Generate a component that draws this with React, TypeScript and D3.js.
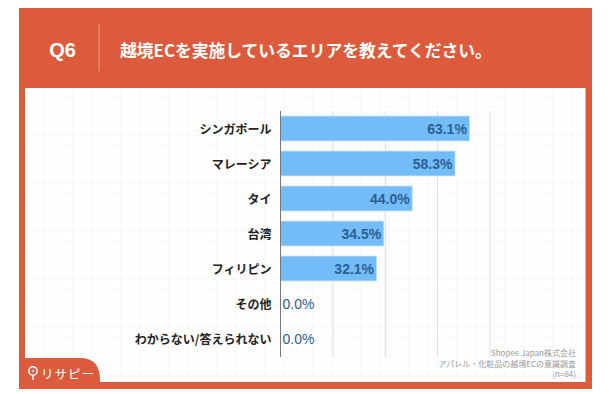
import React from "react";
import * as d3 from "d3";

// data
const categories = [
	"シンガポール",
	"マレーシア",
	"タイ",
	"台湾",
	"フィリピン",
	"その他",
	"わからない/答えられない",
];
const values = [63.1, 58.3, 44.0, 34.5, 32.1, 0.0, 0.0];
const gridTicks = [17.5, 35, 52.5, 70];
const footerLines = ["Shopee Japan株式会社", "アパレル・化粧品の越境ECの意識調査", "(n=84)"];

const ORANGE = "#dc5b3d";
const BAR = "#72bdf8";
const VALUE_COLOR = "#2d5f93";
const FONT = "'Noto Sans CJK JP', 'Noto Sans', sans-serif";
const NUM_FONT = "'Liberation Sans', Arial, sans-serif";

export default function App() {
	const width = 609;
	const height = 394;

	const x = d3.scaleLinear().domain([0, 70]).range([280.5, 490]);
	const y = d3
		.scaleBand<string>()
		.domain(categories)
		.range([111, 356])
		.paddingInner(0.29)
		.paddingOuter(0.145);

	return (
		<div style={{ position: "absolute", left: 0, top: 0 }}>
			<svg width={width} height={height} style={{ display: "block", fontFamily: FONT }}>
				<defs>
					<pattern id="paper" width={9.6} height={9.6} patternUnits="userSpaceOnUse" x={25} y={88}>
						<path d="M9.6,0 V9.6 H0" fill="none" stroke="#efefef" strokeWidth={0.7} />
					</pattern>
				</defs>
				<rect width={width} height={height} fill="#fff" />

				{/* frame */}
				<rect x={19} y={8} width={573} height={381} fill={ORANGE} />
				<rect x={25} y={88} width={560.5} height={294} fill="#fff" />
				<rect x={25} y={88} width={560.5} height={294} fill="url(#paper)" />

				{/* header */}
				<text x={62.5} y={50} fill="#fff" fontSize={20} fontWeight={700} textAnchor="middle" dominantBaseline="central" fontFamily={NUM_FONT}>
					Q6
				</text>
				<line x1={99} x2={99} y1={24} y2={71} stroke="#e99580" strokeWidth={1.2} />
				<text x={120} y={50} fill="#fff" fontSize={16.8} fontWeight={700} dominantBaseline="central">
					越境ECを実施しているエリアを教えてください。
				</text>

				{/* gridlines */}
				{gridTicks.map((t) => (
					<line key={t} x1={x(t)} x2={x(t)} y1={111} y2={357} stroke="#dcdcdc" strokeWidth={1} />
				))}

				{/* bars */}
				{categories.map((c, i) => (
					<g key={c}>
						{values[i] > 0 && (
							<rect
								x={x(0)}
								y={y(c)}
								width={x(values[i]) - x(0)}
								height={y.bandwidth()}
								fill={BAR}
								stroke="#b9defc"
								strokeWidth={0.8}
							/>
						)}
						<text
							x={271.5}
							y={(y(c) ?? 0) + y.bandwidth() / 2}
							textAnchor="end"
							dominantBaseline="central"
							fontSize={12}
							fontWeight={700}
							fill="#222"
						>
							{c}
						</text>
						<text
							x={values[i] > 0 ? x(values[i]) - 2.5 : x(0) + 2}
							y={(y(c) ?? 0) + y.bandwidth() / 2 + 0.5}
							textAnchor={values[i] > 0 ? "end" : "start"}
							dominantBaseline="central"
							fontSize={14}
							fontWeight={values[i] > 0 ? 700 : 400}
							fill={VALUE_COLOR}
							fontFamily={NUM_FONT}
						>
							{values[i].toFixed(1)}%
						</text>
					</g>
				))}

				{/* axis */}
				<line x1={x(0)} x2={x(0)} y1={111} y2={357} stroke="#777" strokeWidth={1} />

				{/* footer */}
				{footerLines.map((l, i) => (
					<text key={l} x={576} y={352.5 + i * 10.5} textAnchor="end" dominantBaseline="central" fontSize={8} fill="#9a9a9a">
						{l}
					</text>
				))}

				{/* logo tab */}
				<path d="M19,389 V358 H80 Q100,358 100,380 V389 Z" fill={ORANGE} />
				<circle cx={33} cy={371} r={4.2} fill="none" stroke="#fff" strokeWidth={1.4} />
				<circle cx={33} cy={371} r={1.5} fill="#8fd0f5" />
				<line x1={33} x2={33} y1={375} y2={380} stroke="#fff" strokeWidth={1.4} />
				<text x={41} y={373} fill="#fff" fontSize={12.5} letterSpacing={1} dominantBaseline="central">
					リサピー
				</text>
			</svg>
		</div>
	);
}
